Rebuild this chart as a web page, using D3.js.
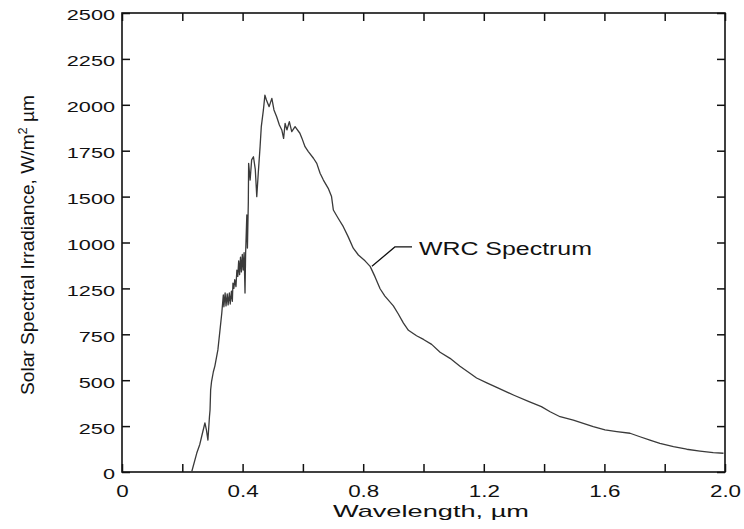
<!DOCTYPE html>
<html>
<head>
<meta charset="utf-8">
<script src="https://cdn.jsdelivr.net/npm/d3@7"></script>
<style>
  body { margin: 0; background: #fff; }
  text { font-family: "Liberation Sans", Arial, sans-serif; fill: #111; }
</style>
</head>
<body>
<div id="chart"></div>
<script>
// WRC solar spectrum (µm, W/m² µm)
const wavelength = [
  0.231, 0.248, 0.258, 0.264, 0.275, 0.280, 0.285, 0.290, 0.292, 0.294,
  0.297, 0.303, 0.308, 0.318, 0.325, 0.331, 0.336, 0.338, 0.342, 0.345,
  0.349, 0.352, 0.356, 0.359, 0.363, 0.366, 0.368, 0.371, 0.374, 0.378,
  0.381, 0.384, 0.387, 0.390, 0.393, 0.396, 0.399, 0.402, 0.405, 0.408,
  0.410, 0.414, 0.416, 0.419, 0.420, 0.425, 0.430, 0.436, 0.442, 0.447,
  0.452, 0.458, 0.462, 0.469, 0.474, 0.479, 0.488, 0.497, 0.504, 0.513,
  0.522, 0.530, 0.536, 0.541, 0.547, 0.555, 0.563, 0.574, 0.590, 0.597,
  0.607, 0.618, 0.635, 0.646, 0.657, 0.668, 0.684, 0.695, 0.701, 0.717,
  0.734, 0.750, 0.767, 0.784, 0.806, 0.823, 0.839, 0.856, 0.872, 0.900,
  0.916, 0.933, 0.950, 0.977, 1.000, 1.027, 1.055, 1.088, 1.121, 1.154,
  1.176, 1.210, 1.250, 1.300, 1.350, 1.391, 1.420, 1.453, 1.497, 1.530,
  1.563, 1.602, 1.641, 1.685, 1.718, 1.751, 1.784, 1.829, 1.873, 1.917,
  1.961, 1.995
];
const irradiance = [
  0, 103, 150, 192, 267, 229, 174, 300, 338, 447,
  492, 546, 577, 665, 773, 866, 964, 900, 975, 905,
  970, 910, 975, 915, 985, 930, 1029, 1000, 1048, 1010,
  1100, 1065, 1150, 1075, 1170, 1090, 1185, 1100, 1195, 975,
  1190, 1400, 1220, 1472, 1681, 1590, 1700, 1717, 1650, 1500,
  1629, 1772, 1881, 1972, 2053, 2026, 1990, 2035, 1972, 1935,
  1890, 1863, 1817, 1899, 1863, 1908, 1854, 1881, 1845, 1817,
  1772, 1745, 1709, 1681, 1627, 1590, 1545, 1500, 1427, 1382,
  1336, 1282, 1219, 1182, 1150, 1120, 1064, 998, 958, 905,
  862, 812, 772, 742, 722, 695, 652, 619, 576, 538,
  512, 485, 455, 418, 383, 356, 328, 301, 283, 265,
  247, 229, 220, 211, 192, 174, 156, 138, 124, 114,
  105, 102
];

const xTicks = [0, 0.2, 0.4, 0.6, 0.8, 1.0, 1.2, 1.4, 1.6, 1.8, 2.0];
const xTickLabels = ['0', '', '0.4', '', '0.8', '', '1.2', '', '1.6', '', '2.0'];
const yTicks = [0, 250, 500, 750, 1000, 1250, 1500, 1750, 2000, 2250, 2500];
// labels as printed in the source figure (1000 and 1250 are swapped there)
const yTickLabels = ['0', '250', '500', '750', '1250', '1000', '1500', '1750', '2000', '2250', '2500'];

const width = 744;
const height = 529;
const margin = { top: 13, right: 19, bottom: 57, left: 122 };
const plotW = width - margin.left - margin.right;
const plotH = height - margin.top - margin.bottom;
const stretch = 1.4;

const svg = d3.select('#chart')
  .append('svg')
  .attr('width', width)
  .attr('height', height);

const g = svg.append('g')
  .attr('transform', `translate(${margin.left},${margin.top})`);

const x = d3.scaleLinear().domain([0, 2]).range([0, plotW]);
const y = d3.scaleLinear().domain([0, 2500]).range([plotH, 0]);

const styleAxis = sel => {
  sel.select('.domain').remove();
  sel.selectAll('.tick line').attr('stroke', '#111').attr('stroke-width', 1.5);
};

// bottom axis with labels
g.append('g')
  .attr('transform', `translate(0,${plotH})`)
  .call(d3.axisBottom(x).tickValues(xTicks).tickSizeInner(-8).tickSizeOuter(0)
    .tickFormat((d, i) => xTickLabels[i]))
  .call(styleAxis)
  .call(a => a.selectAll('.tick text')
    .attr('y', 14)
    .attr('dy', '0.71em')
    .attr('font-size', 16)
    .attr('transform', `scale(${stretch},1)`));

// top axis, ticks only
g.append('g')
  .call(d3.axisTop(x).tickValues(xTicks).tickSizeInner(-8).tickSizeOuter(0).tickFormat(''))
  .call(styleAxis);

// left axis with labels
g.append('g')
  .call(d3.axisLeft(y).tickValues(yTicks).tickSizeInner(-8).tickSizeOuter(0)
    .tickFormat((d, i) => yTickLabels[i]))
  .call(styleAxis)
  .call(a => a.selectAll('.tick text')
    .attr('x', -5)
    .attr('dy', '0.45em')
    .attr('font-size', 15.5)
    .attr('transform', `scale(${stretch},1)`));

// right axis, ticks only
g.append('g')
  .attr('transform', `translate(${plotW},0)`)
  .call(d3.axisRight(y).tickValues(yTicks).tickSizeInner(-8).tickSizeOuter(0).tickFormat(''))
  .call(styleAxis);

// frame
g.append('rect')
  .attr('width', plotW)
  .attr('height', plotH)
  .attr('fill', 'none')
  .attr('stroke', '#111')
  .attr('stroke-width', 1.6);

// spectrum
const points = wavelength.map((w, i) => [w, irradiance[i]]);
const line = d3.line()
  .x(d => x(d[0]))
  .y(d => y(d[1]));

g.append('path')
  .datum(points)
  .attr('d', line)
  .attr('fill', 'none')
  .attr('stroke', '#3a3a3a')
  .attr('stroke-width', 1.3)
  .attr('stroke-linejoin', 'round');

// annotation
const leader = [[0.829, 1120], [0.905, 1226], [0.962, 1226]];
g.append('path')
  .attr('d', line(leader))
  .attr('fill', 'none')
  .attr('stroke', '#111')
  .attr('stroke-width', 1.3);

g.append('text')
  .attr('x', x(0.985))
  .attr('y', y(1182))
  .attr('font-size', 18)
  .attr('textLength', 173)
  .attr('lengthAdjust', 'spacingAndGlyphs')
  .text('WRC Spectrum');

// axis titles
svg.append('text')
  .attr('x', 431)
  .attr('y', 517)
  .attr('text-anchor', 'middle')
  .attr('font-size', 17)
  .attr('textLength', 196)
  .attr('lengthAdjust', 'spacingAndGlyphs')
  .text('Wavelength, µm');

const yTitle = svg.append('text')
  .attr('transform', 'translate(34,245) rotate(-90)')
  .attr('text-anchor', 'middle')
  .attr('font-size', 18)
  .attr('textLength', 300)
  .attr('lengthAdjust', 'spacingAndGlyphs');
yTitle.append('tspan').text('Solar Spectral Irradiance, W/m');
yTitle.append('tspan').attr('dy', -7).attr('font-size', 12).text('2');
yTitle.append('tspan').attr('dy', 7).text(' µm');
</script>
</body>
</html>
